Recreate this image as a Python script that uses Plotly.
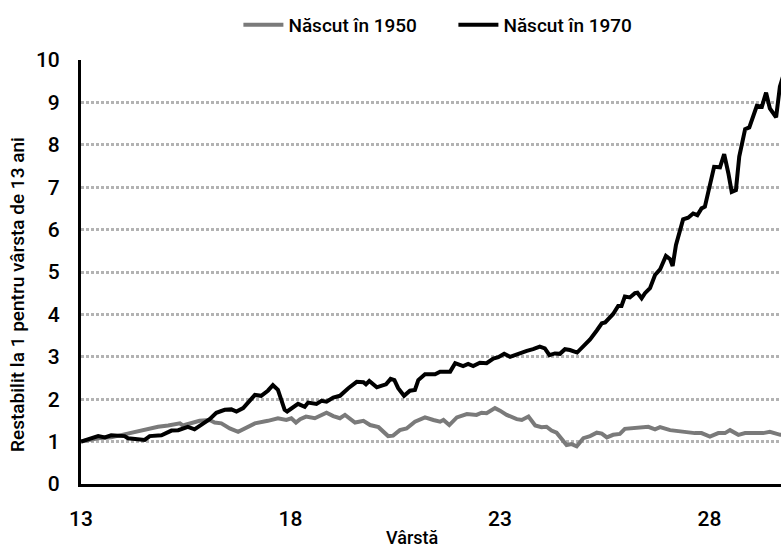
import plotly.graph_objects as go

# Născut în 1970 (black)
age_1970 = [13.00, 13.41, 13.57, 13.72, 14.04, 14.12, 14.52, 14.64, 14.92, 15.16,
            15.32, 15.55, 15.71, 15.95, 16.07, 16.23, 16.43, 16.59, 16.71, 16.87,
            17.06, 17.15, 17.30, 17.46, 17.58, 17.70, 17.86, 17.92, 18.18, 18.34,
            18.42, 18.62, 18.74, 18.86, 19.02, 19.18, 19.38, 19.58, 19.74, 19.80,
            19.88, 20.06, 20.18, 20.28, 20.39, 20.48, 20.57, 20.71, 20.85, 20.97,
            21.05, 21.21, 21.45, 21.57, 21.81, 21.93, 22.12, 22.24, 22.36, 22.52,
            22.68, 22.84, 22.96, 23.10, 23.24, 23.44, 23.64, 23.79, 23.95, 24.07,
            24.18, 24.31, 24.43, 24.55, 24.67, 24.84, 24.99, 25.15, 25.31, 25.43,
            25.51, 25.63, 25.70, 25.82, 25.90, 25.98, 26.10, 26.22, 26.28, 26.38,
            26.46, 26.58, 26.70, 26.82, 26.96, 27.06, 27.12, 27.20, 27.30, 27.37,
            27.49, 27.61, 27.71, 27.81, 27.89, 28.01, 28.11, 28.25, 28.35, 28.45,
            28.53, 28.63, 28.71, 28.85, 28.95, 29.13, 29.25, 29.35, 29.44, 29.59,
            29.68, 29.75]
val_1970 = [1.00, 1.13, 1.10, 1.15, 1.13, 1.08, 1.04, 1.13, 1.15, 1.26,
            1.27, 1.35, 1.29, 1.45, 1.53, 1.68, 1.75, 1.76, 1.71, 1.79,
            2.00, 2.10, 2.08, 2.20, 2.33, 2.22, 1.75, 1.71, 1.89, 1.82,
            1.92, 1.89, 1.96, 1.94, 2.04, 2.08, 2.26, 2.41, 2.40, 2.35,
            2.43, 2.28, 2.32, 2.35, 2.48, 2.45, 2.26, 2.08, 2.20, 2.22,
            2.45, 2.59, 2.59, 2.65, 2.65, 2.85, 2.78, 2.83, 2.78, 2.86,
            2.85, 2.96, 2.99, 3.07, 3.00, 3.08, 3.14, 3.18, 3.24, 3.20,
            3.04, 3.08, 3.07, 3.18, 3.16, 3.10, 3.25, 3.41, 3.62, 3.79,
            3.81, 3.96, 4.01, 4.20, 4.20, 4.42, 4.40, 4.50, 4.51, 4.38,
            4.50, 4.62, 4.93, 5.06, 5.38, 5.30, 5.14, 5.64, 5.95, 6.24,
            6.28, 6.38, 6.34, 6.50, 6.54, 7.09, 7.48, 7.47, 7.78, 7.33,
            6.89, 6.93, 7.72, 8.37, 8.41, 8.92, 8.90, 9.23, 8.86, 8.65,
            9.37, 9.60]

# Născut în 1950 (gray)
age_1950 = [13.00, 13.41, 13.72, 13.96, 14.20, 14.52, 14.84, 15.08, 15.36, 15.43,
            15.63, 15.83, 16.07, 16.19, 16.35, 16.55, 16.75, 16.91, 17.15, 17.46,
            17.70, 17.90, 18.02, 18.13, 18.23, 18.37, 18.58, 18.86, 19.02, 19.18,
            19.30, 19.54, 19.74, 19.90, 20.10, 20.33, 20.45, 20.61, 20.77, 20.97,
            21.21, 21.41, 21.57, 21.65, 21.79, 21.97, 22.21, 22.44, 22.56, 22.68,
            22.88, 23.00, 23.16, 23.40, 23.52, 23.68, 23.84, 23.99, 24.11, 24.23,
            24.35, 24.59, 24.71, 24.83, 24.99, 25.15, 25.31, 25.43, 25.55, 25.70,
            25.86, 25.98, 26.10, 26.34, 26.54, 26.70, 26.82, 27.06, 27.37, 27.65,
            27.81, 28.01, 28.21, 28.37, 28.49, 28.69, 28.85, 29.01, 29.16, 29.28,
            29.44, 29.60, 29.69, 29.75]
val_1950 = [1.00, 1.08, 1.10, 1.15, 1.21, 1.29, 1.35, 1.38, 1.43, 1.38,
            1.43, 1.49, 1.51, 1.45, 1.43, 1.31, 1.23, 1.31, 1.43, 1.49,
            1.55, 1.51, 1.55, 1.45, 1.53, 1.59, 1.55, 1.68, 1.60, 1.55,
            1.63, 1.45, 1.49, 1.39, 1.34, 1.13, 1.14, 1.27, 1.31, 1.47,
            1.57, 1.51, 1.47, 1.51, 1.39, 1.57, 1.65, 1.63, 1.68, 1.67,
            1.79, 1.73, 1.63, 1.53, 1.51, 1.59, 1.38, 1.34, 1.35, 1.26,
            1.21, 0.92, 0.94, 0.89, 1.08, 1.13, 1.21, 1.19, 1.10, 1.16,
            1.18, 1.30, 1.31, 1.34, 1.35, 1.29, 1.34, 1.27, 1.23, 1.20,
            1.20, 1.12, 1.20, 1.20, 1.27, 1.16, 1.20, 1.20, 1.20, 1.20,
            1.23, 1.17, 1.16, 1.16]

x_ticks = [13, 18, 23, 28]
y_ticks = [0, 1, 2, 3, 4, 5, 6, 7, 8, 9, 10]
x_title = "Vârstă"
y_title = "Restabilit la 1 pentru vârsta de 13 ani"

FONT = "Roboto"

fig = go.Figure()
fig.add_trace(go.Scatter(x=age_1950, y=val_1950, mode="lines", name="Născut în 1950",
                         line=dict(color="#7a7a7a", width=4)))
fig.add_trace(go.Scatter(x=age_1970, y=val_1970, mode="lines", name="Născut în 1970",
                         line=dict(color="#000000", width=4)))

fig.update_layout(
    width=781, height=547,
    margin=dict(l=81, r=0, t=60, b=63, autoexpand=False),
    paper_bgcolor="white", plot_bgcolor="white",
    font=dict(family=FONT, color="#000000", size=19, weight=500),
    legend=dict(orientation="h", x=0.532, xanchor="center", y=1.083, yanchor="middle",
                font=dict(size=19, weight=500), itemwidth=40, tracegroupgap=0,
                entrywidth=160, entrywidthmode="pixels",
                bgcolor="rgba(0,0,0,0)"),
    showlegend=True,
)

fig.add_annotation(text=y_title, xref="paper", yref="paper", x=-0.09, y=0.446,
                   textangle=-90, showarrow=False, xanchor="center", yanchor="middle",
                   font=dict(size=19, weight=500))
fig.add_annotation(text=x_title, xref="paper", yref="paper", x=0.473, y=-0.125,
                   showarrow=False, xanchor="center", yanchor="middle",
                   font=dict(size=18, weight=500))

fig.update_xaxes(
    range=[13, 13 + 700 / 41.9],
    tickmode="array", tickvals=x_ticks, ticktext=[str(t) for t in x_ticks],
    showgrid=False, zeroline=False, automargin=False,
    showline=True, linecolor="#000000", linewidth=3,
    ticks="outside", ticklen=14, tickcolor="rgba(0,0,0,0)",
    tickfont=dict(size=21, weight=500),
)
fig.update_yaxes(
    range=[0, 10],
    tickmode="array", tickvals=y_ticks, ticktext=[str(t) for t in y_ticks],
    showgrid=True, gridcolor="#b3b3b3", gridwidth=3, griddash="3px,2px",
    zeroline=False, automargin=False,
    showline=True, linecolor="#000000", linewidth=3,
    ticks="outside", ticklen=14, tickcolor="rgba(0,0,0,0)",
    tickfont=dict(size=21, weight=500),
)

fig.write_html("out.html", config={"displayModeBar": False},
               post_script="document.body.style.margin='0';")
